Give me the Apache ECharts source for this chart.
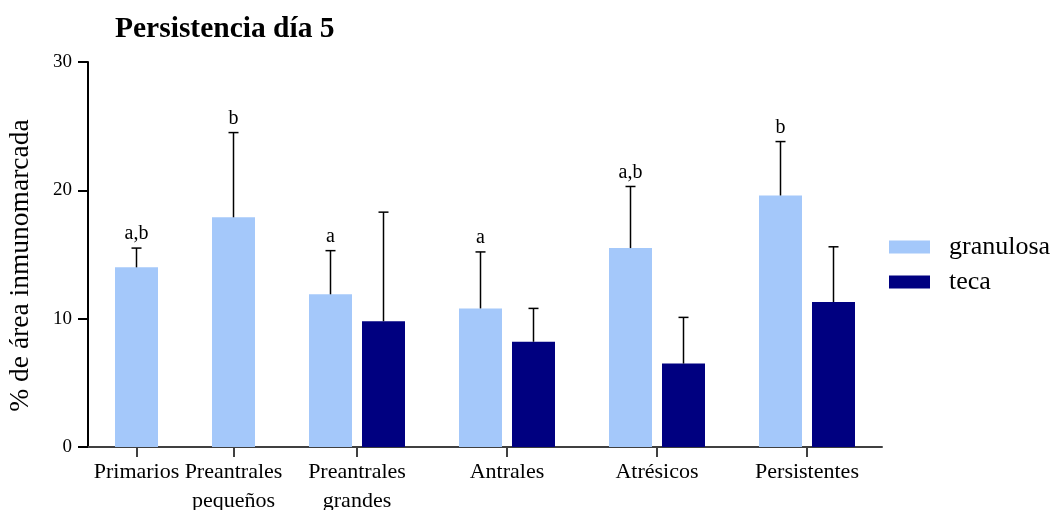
<!DOCTYPE html>
<html>
<head>
<meta charset="utf-8">
<script src="https://cdn.jsdelivr.net/npm/echarts@6/dist/echarts.min.js"></script>
<style>html,body{margin:0;padding:0;background:#fff;}#c{width:1053px;height:510px;}</style>
</head>
<body>
<div id="c"></div>
<script>
// ---- data ----
const categories = ['Primarios', 'Preantrales\npequeños', 'Preantrales\ngrandes', 'Antrales', 'Atrésicos', 'Persistentes'];
const granulosa = [14.0, 17.9, 11.9, 10.8, 15.5, 19.6];
const granulosaErr = [1.5, 6.6, 3.4, 4.4, 4.8, 4.2];
const teca = [null, null, 9.8, 8.2, 6.5, 11.3];
const tecaErr = [null, null, 8.5, 2.6, 3.6, 4.3];
const letters = ['a,b', 'b', 'a', 'a', 'a,b', 'b'];
const yTicks = [0, 10, 20, 30];
const title = 'Persistencia día 5';
const yName = '% de área inmunomarcada';

// ---- split: first two categories have a single bar ----
const split = 2;
const cat1 = categories.slice(0, split), cat2 = categories.slice(split);

const FONT = 'Liberation Serif';
const COL_G = '#A4C8FA', COL_T = '#000080';
const BAR_W = 43, GAP = 10;

function errSeries(name, xi, yi, vals, errs, offset, labels, startIdx) {
  const data = [];
  vals.forEach((v, i) => { if (v != null) data.push([i, v, v + errs[i], startIdx + i]); });
  return {
    type: 'custom', name: name + '_err', xAxisIndex: xi, yAxisIndex: yi, silent: true, z: 5,
    encode: { x: 0, y: [1, 2] },
    data: data,
    renderItem: function (params, api) {
      const x = api.value(0);
      const p0 = api.coord([x, api.value(1)]);
      const p1 = api.coord([x, api.value(2)]);
      const cx = p0[0] + offset;
      const children = [
        { type: 'line', shape: { x1: cx, y1: p0[1], x2: cx, y2: p1[1] }, style: { stroke: '#000', lineWidth: 1.5 } },
        { type: 'line', shape: { x1: cx - 5, y1: p1[1], x2: cx + 5, y2: p1[1] }, style: { stroke: '#000', lineWidth: 1.5 } }
      ];
      if (labels) {
        const lab = labels[api.value(3)];
        if (lab) children.push({ type: 'text', style: { text: lab, x: cx, y: p1[1] - 4, align: 'center', verticalAlign: 'bottom', font: '20px ' + FONT, fill: '#000' } });
      }
      return { type: 'group', children: children };
    }
  };
}

const xAxisCommon = {
  type: 'category',
  axisLine: { show: true, lineStyle: { color: '#404040', width: 2 } },
  axisTick: { show: true, alignWithLabel: true, length: 10, lineStyle: { color: '#404040', width: 2 } },
  axisLabel: { show: true, interval: 0, fontFamily: FONT, fontSize: 22, color: '#000', lineHeight: 29, margin: 11 }
};

const option = {
  animation: false,
  backgroundColor: '#fff',
  title: { text: title, left: 110, top: 9, textStyle: { fontFamily: FONT, fontWeight: 'bold', fontSize: 29.5, color: '#000' } },
  legend: {
    data: ['granulosa', 'teca'], orient: 'vertical', left: 884, top: 229,
    icon: 'rect', itemWidth: 41, itemHeight: 13, itemGap: 9,
    textStyle: { fontFamily: FONT, fontSize: 26, color: '#000', padding: [0, 0, 0, 14] }
  },
  grid: [
    { left: 88, top: 62, width: 194, height: 385, containLabel: false, outerBoundsMode: 'none' },
    { left: 282, top: 62, width: 600, height: 385, containLabel: false, outerBoundsMode: 'none' }
  ],
  xAxis: [
    Object.assign({}, xAxisCommon, { gridIndex: 0, data: cat1 }),
    Object.assign({}, xAxisCommon, { gridIndex: 1, data: cat2 })
  ],
  yAxis: [
    {
      type: 'value', gridIndex: 0, min: yTicks[0], max: yTicks[yTicks.length - 1], interval: 10,
      name: yName, nameLocation: 'middle', nameGap: 53,
      nameTextStyle: { fontFamily: FONT, fontSize: 27.5, color: '#000', padding: [0, 22, 0, 0] },
      axisLine: { show: true, lineStyle: { color: '#000', width: 2 } },
      axisTick: { show: true, length: 10, lineStyle: { color: '#000', width: 2 } },
      axisLabel: { fontFamily: FONT, fontSize: 19, color: '#000', margin: 16 },
      splitLine: { show: false }
    },
    { type: 'value', gridIndex: 1, min: yTicks[0], max: yTicks[yTicks.length - 1], interval: 10, show: false, splitLine: { show: false } }
  ],
  series: [
    { type: 'bar', name: 'granulosa', xAxisIndex: 0, yAxisIndex: 0, data: granulosa.slice(0, split), barWidth: BAR_W, itemStyle: { color: COL_G } },
    { type: 'bar', name: 'granulosa', xAxisIndex: 1, yAxisIndex: 1, data: granulosa.slice(split), barWidth: BAR_W, barGap: (GAP / BAR_W * 100) + '%', itemStyle: { color: COL_G } },
    { type: 'bar', name: 'teca', xAxisIndex: 1, yAxisIndex: 1, data: teca.slice(split), barWidth: BAR_W, barGap: (GAP / BAR_W * 100) + '%', itemStyle: { color: COL_T } },
    errSeries('g1', 0, 0, granulosa.slice(0, split), granulosaErr.slice(0, split), 0, letters, 0),
    errSeries('g2', 1, 1, granulosa.slice(split), granulosaErr.slice(split), -(BAR_W + GAP) / 2, letters, split),
    errSeries('t2', 1, 1, teca.slice(split), tecaErr.slice(split), (BAR_W + GAP) / 2, null, split)
  ]
};
const chart = echarts.init(document.getElementById('c'), null, { renderer: 'canvas' });
chart.setOption(option);
</script>
</body>
</html>
